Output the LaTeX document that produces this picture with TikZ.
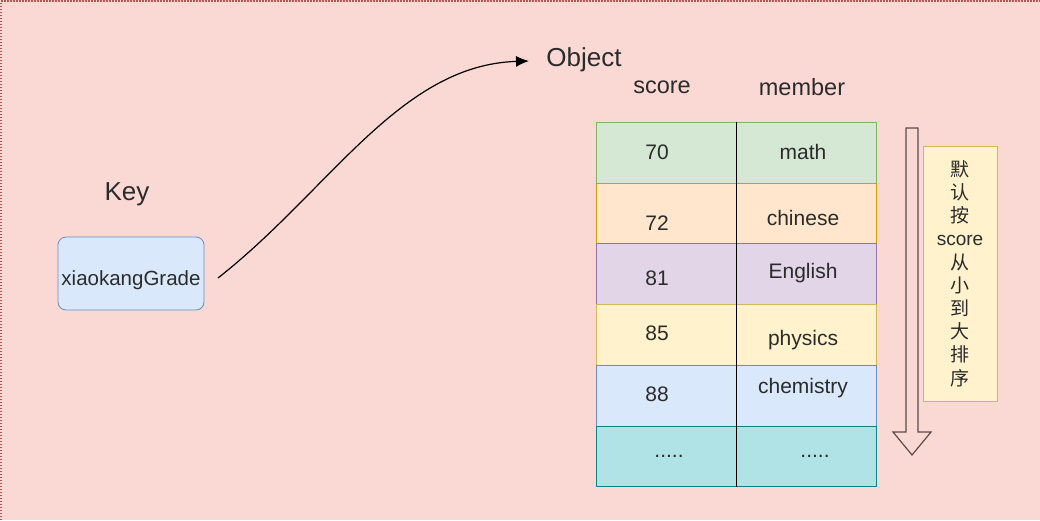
\documentclass[tikz,border=0pt]{standalone}
\usepackage{fontspec}
\setmainfont{Liberation Sans}
\newfontfamily\cjk{Noto Sans CJK SC}
\usepackage{tikz}
\usetikzlibrary{positioning,calc,arrows.meta}
\definecolor{canvasbg}{HTML}{FAD9D5}
\definecolor{canvasline}{HTML}{B85450}
\definecolor{rowgreen}{HTML}{D5E8D4}
\definecolor{edgegreen}{HTML}{82B366}
\definecolor{roworange}{HTML}{FFE6CC}
\definecolor{edgeorange}{HTML}{D79B00}
\definecolor{rowpurple}{HTML}{E1D5E7}
\definecolor{edgepurple}{HTML}{9673A6}
\definecolor{rowyellow}{HTML}{FFF2CC}
\definecolor{edgeyellow}{HTML}{D6B656}
\definecolor{rowblue}{HTML}{DAE8FC}
\definecolor{edgeblue}{HTML}{6C8EBF}
\definecolor{rowteal}{HTML}{B0E3E6}
\definecolor{edgeteal}{HTML}{0E8088}
\definecolor{inkdark}{HTML}{2B2B2B}
\definecolor{arrowedge}{HTML}{5B4B4B}

\begin{document}
\begin{tikzpicture}[x=1pt, y=-1pt,
    cell/.style={rectangle, minimum width=140pt, minimum height=60.7pt, inner sep=0pt, anchor=north west, line width=0.8pt},
    celltext/.style={font=\fontsize{21}{25}\selectfont, text=inkdark, inner sep=0pt},
    headtext/.style={font=\fontsize{23.5}{28}\selectfont, text=inkdark, inner sep=0pt},
    keybox/.style={rectangle, rounded corners=8pt, draw=edgeblue, fill=rowblue, line width=0.8pt, minimum width=146pt, minimum height=73pt, text height=29pt, font=\fontsize{20.5}{24}\selectfont, text=inkdark},
    notebox/.style={rectangle, draw=edgeyellow, fill=rowyellow, line width=0.8pt, minimum width=74pt, minimum height=255pt, align=center, font=\fontsize{19}{23.2}\selectfont, text=inkdark},
    linkline/.style={-{Latex[length=13pt,width=11pt]}, line width=1.2pt, black}
  ]
    \useasboundingbox (0,0) rectangle (1040,520);
    % Canvas
    \fill[canvasbg] (0,0) rectangle (1040,520);
    \draw[canvasline, line width=1.4pt, dash pattern=on 1.5pt off 1.5pt] (1,520) -- (1,1) -- (1040,1);

    % Key side
    \node[headtext, font=\fontsize{26}{30}\selectfont] (keylabel) at (127,194) {Key};
    \node[keybox] (key) at (131,273.5) {xiaokangGrade};

    % Object side
    \node[headtext, font=\fontsize{26}{30}\selectfont] (obj) at (584,60) {Object};
    \node[headtext] (scorehead) at (662,87) {score};
    \node[headtext] (memberhead) at (802,87) {member};

    % Table rows
    \foreach \fc/\dc [count=\i] in {rowgreen/edgegreen, roworange/edgeorange, rowpurple/edgepurple, rowyellow/edgeyellow, rowblue/edgeblue, rowteal/edgeteal}{
      \node[cell, fill=\fc, draw=\dc] (score\i) at (596,{122+(\i-1)*60.7}) {};
      \node[cell, fill=\fc, draw=\dc] (member\i) at (736,{122+(\i-1)*60.7}) {};
    }
    \draw[black, line width=1pt] (score1.north east) -- (score6.south east);

    % Cell texts
    \node[celltext] (v1) at (657,152) {70};
    \node[celltext] (m1) at (803,152) {math};
    \node[celltext] (v2) at (657,223) {72};
    \node[celltext] (m2) at (803,218) {chinese};
    \node[celltext] (v3) at (657,278) {81};
    \node[celltext] (m3) at (803,273) {English};
    \node[celltext] (v4) at (657,333) {85};
    \node[celltext] (m4) at (803,340) {physics};
    \node[celltext] (v5) at (657,394) {88};
    \node[celltext] (m5) at (803,388) {chemistry};
    \node[celltext, anchor=base] (v6) at (669,457) {.....};
    \node[celltext, anchor=base] (m6) at (815,457) {.....};

    % Link from key to object
    \coordinate (linkstart) at (218,278);
    \coordinate (linkend) at (529,61);
    \draw[linkline] (linkstart) .. controls (330,190) and (400,65) .. (linkend);

    % Sort direction arrow
    \draw[arrowedge, line width=1.2pt, fill=canvasbg, line join=miter]
      (906,128) -- (918,128) -- (918,432) -- (931,432) -- (912,455) -- (893,432) -- (906,432) -- cycle;

    % Note
    \node[notebox] (note) at (960,273.5) {{\cjk 默}\\{\cjk 认}\\{\cjk 按}\\score\\{\cjk 从}\\{\cjk 小}\\{\cjk 到}\\{\cjk 大}\\{\cjk 排}\\{\cjk 序}};
  \end{tikzpicture}
\end{document}
